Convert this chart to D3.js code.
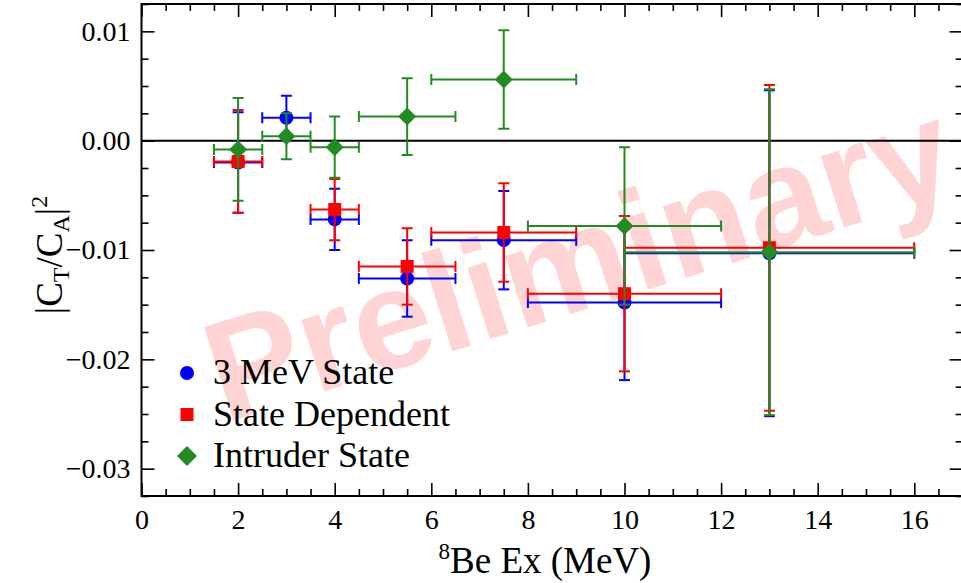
<!DOCTYPE html>
<html>
<head>
<meta charset="utf-8">
<script src="https://cdn.jsdelivr.net/npm/d3@7"></script>
<style>
  html, body { margin: 0; padding: 0; background: #fff; }
  svg { display: block; }
</style>
</head>
<body>
<div id="chart"></div>
<script>
// ---------------- data ----------------
const seriesNames = ["3 MeV State", "State Dependent", "Intruder State"];

const blueX    = [2, 3, 4, 5.5, 7.5, 10, 13];
const blueXErr = [0.5, 0.5, 0.5, 1, 1.5, 2, 3];
const blueY    = [-0.0020, 0.0021, -0.0072, -0.0126, -0.0091, -0.0148, -0.0103];
const blueYErr = [0.0046, 0.0020, 0.0028, 0.0035, 0.0045, 0.0071, 0.0149];

const redX    = [2, 4, 5.5, 7.5, 10, 13];
const redXErr = [0.5, 0.5, 1, 1.5, 2, 3];
const redY    = [-0.0019, -0.0063, -0.0115, -0.0084, -0.0140, -0.0098];
const redYErr = [0.0047, 0.0028, 0.0035, 0.0045, 0.0071, 0.0149];

const greenX    = [2, 3, 4, 5.5, 7.5, 10, 13];
const greenXErr = [0.5, 0.5, 0.5, 1, 1.5, 2, 3];
const greenY    = [-0.0008, 0.0004, -0.0006, 0.0022, 0.0056, -0.0078, -0.0102];
const greenYErr = [0.0047, 0.0021, 0.0028, 0.0035, 0.0045, 0.0072, 0.0149];

const xTicks = [0, 2, 4, 6, 8, 10, 12, 14, 16];
const yTicks = [-0.03, -0.02, -0.01, 0.00, 0.01];
const yTickLabels = ["\u22120.03", "\u22120.02", "\u22120.01", "0.00", "0.01"];

// ---------------- layout ----------------
const W = 961, H = 583;
const pL = 141.5, pR = 962.6, pT = 4, pB = 496;
const SERIF = "\"Liberation Serif\", \"Times New Roman\", Tinos, serif";
const SANS = "\"Liberation Sans\", Arial, sans-serif";

const svg = d3.select("#chart").append("svg")
  .attr("width", W).attr("height", H)
  .attr("viewBox", `0 0 ${W} ${H}`);

const x = d3.scaleLinear().domain([0, 17]).range([pL, pR]);
const y = d3.scaleLinear().domain([-0.0325, 0.0125]).range([pB, pT]);

// watermark
svg.append("text")
  .attr("transform", "translate(578,258) rotate(-17.5)")
  .attr("text-anchor", "middle")
  .attr("dy", "0.36em")
  .style("font-family", SANS)
  .style("font-weight", "bold")
  .style("font-size", "142px")
  .attr("fill", "#ff0000")
  .attr("fill-opacity", 0.17)
  .text("Preliminary");

// clip for plot area
svg.append("clipPath").attr("id", "clip")
  .append("rect").attr("x", pL).attr("y", pT)
  .attr("width", pR - pL).attr("height", pB - pT);

// axes (inward ticks)
const minorX = d3.range(0, 17.01, 0.5).filter(v => Math.abs(v % 2) > 1e-9);
const minorY = d3.range(-0.0325, 0.01251, 0.0025).filter(v => Math.abs(Math.round(v * 100) - v * 100) > 1e-6);

function styleAxis(g) {
  g.select(".domain").remove();
  g.selectAll(".tick line").attr("stroke", "#000").attr("stroke-width", 1.6);
}
function styleLabels(g) {
  g.selectAll("text").style("font-family", SERIF).style("font-size", "28px").attr("fill", "#000");
}

// bottom
svg.append("g").attr("transform", `translate(0,${pB})`)
  .call(d3.axisBottom(x).tickValues(xTicks).tickSizeInner(-13).tickSizeOuter(0)
        .tickPadding(13).tickFormat(d3.format("d")))
  .call(styleAxis).call(styleLabels);
svg.append("g").attr("transform", `translate(0,${pB})`)
  .call(d3.axisBottom(x).tickValues(minorX).tickSizeInner(-7).tickSizeOuter(0).tickFormat(""))
  .call(styleAxis);
// top
svg.append("g").attr("transform", `translate(0,${pT})`)
  .call(d3.axisTop(x).tickValues(xTicks).tickSizeInner(-13).tickSizeOuter(0).tickFormat(""))
  .call(styleAxis);
svg.append("g").attr("transform", `translate(0,${pT})`)
  .call(d3.axisTop(x).tickValues(minorX).tickSizeInner(-7).tickSizeOuter(0).tickFormat(""))
  .call(styleAxis);
// left
svg.append("g").attr("transform", `translate(${pL},0)`)
  .call(d3.axisLeft(y).tickValues(yTicks).tickSizeInner(-13).tickSizeOuter(0)
        .tickPadding(11).tickFormat((d, i) => yTickLabels[i]))
  .call(styleAxis).call(styleLabels);
svg.append("g").attr("transform", `translate(${pL},0)`)
  .call(d3.axisLeft(y).tickValues(minorY).tickSizeInner(-7).tickSizeOuter(0).tickFormat(""))
  .call(styleAxis);
// right
svg.append("g").attr("transform", `translate(${pR},0)`)
  .call(d3.axisRight(y).tickValues(yTicks).tickSizeInner(-13).tickSizeOuter(0).tickFormat(""))
  .call(styleAxis);
svg.append("g").attr("transform", `translate(${pR},0)`)
  .call(d3.axisRight(y).tickValues(minorY).tickSizeInner(-7).tickSizeOuter(0).tickFormat(""))
  .call(styleAxis);

// frame
svg.append("rect").attr("x", pL).attr("y", pT)
  .attr("width", pR - pL).attr("height", pB - pT)
  .attr("fill", "none").attr("stroke", "#000").attr("stroke-width", 2);

// zero line
svg.append("line")
  .attr("x1", x(0)).attr("x2", x(17)).attr("y1", y(0)).attr("y2", y(0))
  .attr("stroke", "#000").attr("stroke-width", 2);

// ---------------- data marks ----------------
const plot = svg.append("g").attr("clip-path", "url(#clip)");
const cap = 5.5;

function drawSeries(xs, xe, ys, ye, color, shape) {
  const data = xs.map((v, i) => ({ x: v, xe: xe[i], y: ys[i], ye: ye[i] }));
  const g = plot.append("g");
  const eb = g.selectAll("g.eb").data(data).enter().append("g")
    .attr("stroke", color).attr("stroke-width", 2).attr("fill", "none");
  // vertical
  eb.append("line").attr("x1", d => x(d.x)).attr("x2", d => x(d.x))
    .attr("y1", d => y(d.y - d.ye)).attr("y2", d => y(d.y + d.ye));
  eb.append("line").attr("x1", d => x(d.x) - cap).attr("x2", d => x(d.x) + cap)
    .attr("y1", d => y(d.y + d.ye)).attr("y2", d => y(d.y + d.ye));
  eb.append("line").attr("x1", d => x(d.x) - cap).attr("x2", d => x(d.x) + cap)
    .attr("y1", d => y(d.y - d.ye)).attr("y2", d => y(d.y - d.ye));
  // horizontal
  eb.append("line").attr("x1", d => x(d.x - d.xe)).attr("x2", d => x(d.x + d.xe))
    .attr("y1", d => y(d.y)).attr("y2", d => y(d.y));
  eb.append("line").attr("x1", d => x(d.x - d.xe)).attr("x2", d => x(d.x - d.xe))
    .attr("y1", d => y(d.y) - cap).attr("y2", d => y(d.y) + cap);
  eb.append("line").attr("x1", d => x(d.x + d.xe)).attr("x2", d => x(d.x + d.xe))
    .attr("y1", d => y(d.y) - cap).attr("y2", d => y(d.y) + cap);
  // markers
  g.selectAll("path.m").data(data).enter().append("path")
    .attr("d", shape)
    .attr("transform", d => `translate(${x(d.x)},${y(d.y)})`)
    .attr("fill", color);
}

const circleShape = d3.symbol().type(d3.symbolCircle).size(Math.PI * 7 * 7)();
const squareShape = d3.symbol().type(d3.symbolSquare).size(13 * 13)();
const diamondShape = "M0,-9L9,0L0,9L-9,0Z";

const blue = "#0000ff", red = "#ff0000", green = "#228b22";
drawSeries(blueX, blueXErr, blueY, blueYErr, blue, circleShape);
drawSeries(redX, redXErr, redY, redYErr, red, squareShape);
drawSeries(greenX, greenXErr, greenY, greenYErr, green, diamondShape);

// ---------------- legend ----------------
const legend = svg.append("g");
const legendItems = [
  { name: seriesNames[0], color: blue, shape: circleShape },
  { name: seriesNames[1], color: red, shape: squareShape },
  { name: seriesNames[2], color: green, shape: "M0,-10L10,0L0,10L-10,0Z" }
];
legendItems.forEach((it, i) => {
  const cy = 373 + i * 41.5;
  legend.append("path").attr("d", it.shape)
    .attr("transform", `translate(187,${cy})`).attr("fill", it.color);
  legend.append("text").attr("x", 213).attr("y", cy + 11)
    .style("font-family", SERIF).style("font-size", "36px").attr("fill", "#000")
    .text(it.name);
});

// ---------------- axis titles ----------------
const xt = svg.append("text").attr("x", 545).attr("y", 573)
  .attr("text-anchor", "middle")
  .style("font-family", SERIF).style("font-size", "37px").attr("fill", "#000");
xt.append("tspan").style("font-size", "23px").attr("dy", -14).text("8");
xt.append("tspan").attr("dy", 14).text("Be Ex (MeV)");

const yt = svg.append("text").attr("transform", "translate(62,255) rotate(-90)")
  .attr("text-anchor", "middle")
  .style("font-family", SERIF).style("font-size", "37px").attr("fill", "#000");
yt.append("tspan").text("|C");
yt.append("tspan").style("font-size", "24px").attr("dy", 7).text("T");
yt.append("tspan").attr("dy", -7).text("/C");
yt.append("tspan").style("font-size", "24px").attr("dy", 7).text("A");
yt.append("tspan").attr("dy", -7).text("|");
yt.append("tspan").style("font-size", "24px").attr("dy", -15).text("2");
</script>
</body>
</html>
